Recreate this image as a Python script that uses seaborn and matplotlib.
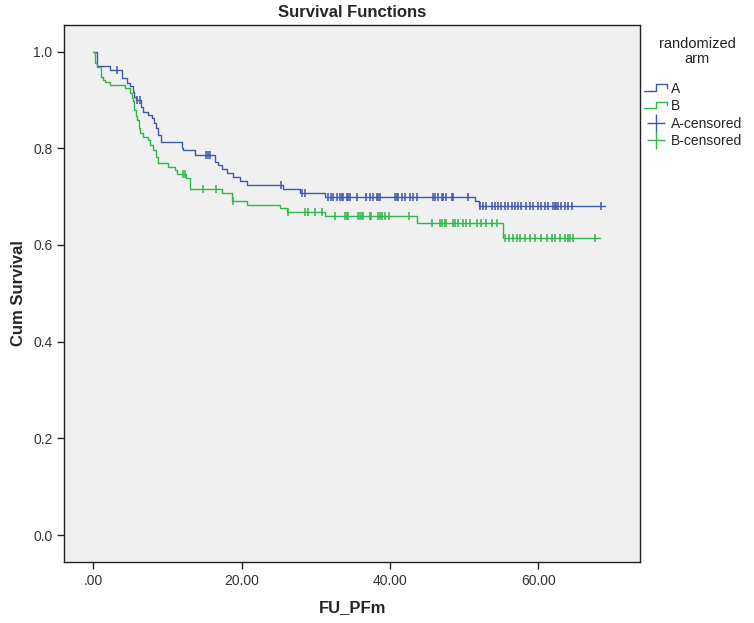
import numpy as np
import pandas as pd
import matplotlib
matplotlib.use("Agg")
import matplotlib.pyplot as plt
from matplotlib.lines import Line2D
from matplotlib.legend_handler import HandlerBase
from matplotlib.ticker import FixedLocator, FuncFormatter
import seaborn as sns

# Kaplan-Meier steps (time in months, survival after the drop)
times_a = [0, 0.54, 2.25, 3.9, 4.5, 4.95, 5.3, 5.5, 5.75, 6.5, 6.75, 7.4, 7.9, 8.2, 8.45,
           8.75, 9.1, 11.9, 12.1, 13.7, 16.4, 16.85, 17.3, 18.0, 18.9, 19.8, 20.7, 25.6,
           27.9, 31.2, 51.4, 52.0, 69.0]
surv_a = [1.0, 0.970, 0.961, 0.945, 0.936, 0.928, 0.917, 0.907, 0.899, 0.886, 0.876, 0.869,
          0.862, 0.852, 0.841, 0.828, 0.812, 0.800, 0.797, 0.786, 0.772, 0.766, 0.757, 0.748,
          0.741, 0.733, 0.724, 0.715, 0.707, 0.700, 0.690, 0.681, 0.681]
cens_a = [3.15, 5.85, 6.3, 15.2, 15.5, 15.8, 25.3, 28.1, 28.5, 31.7, 32.1, 32.3, 32.8, 33.3,
          33.5, 33.7, 34.2, 34.4, 34.6, 35.5, 36.8, 37.3, 37.7, 38.2, 38.4, 38.6, 40.7, 40.9,
          41.1, 41.6, 42.0, 42.7, 43.1, 43.6, 45.8, 46.1, 46.5, 47.0, 47.2, 47.6, 48.3, 48.5,
          50.5, 52.1, 52.5, 53.0, 53.7, 54.1, 54.6, 55.0, 55.5, 55.9, 56.4, 56.8, 57.3, 57.7,
          58.4, 58.9, 59.3, 60.0, 60.4, 60.9, 61.3, 62.0, 62.2, 62.4, 62.7, 63.1, 63.6, 64.0,
          64.5, 68.5]

times_b = [0, 0.3, 0.5, 1.04, 1.35, 1.6, 2.25, 4.3, 4.95, 5.2, 5.4, 5.5, 5.75, 5.9, 6.2, 6.3,
           6.75, 7.4, 7.65, 8.1, 8.45, 8.75, 10.1, 11.0, 11.25, 12.5, 13.0, 17.3, 18.7, 20.7,
           25.2, 26.1, 31.2, 43.6, 55.3, 68.3]
surv_b = [1.0, 0.976, 0.969, 0.948, 0.941, 0.938, 0.931, 0.924, 0.914, 0.903, 0.897, 0.879,
          0.866, 0.859, 0.841, 0.831, 0.824, 0.817, 0.807, 0.797, 0.783, 0.769, 0.762, 0.755,
          0.747, 0.738, 0.715, 0.707, 0.690, 0.683, 0.676, 0.669, 0.659, 0.646, 0.614, 0.614]
cens_b = [12.1, 12.4, 14.8, 16.6, 18.8, 26.2, 28.5, 29.0, 29.9, 30.8, 32.6, 33.9, 34.2, 34.4,
          35.7, 35.9, 36.2, 36.4, 37.3, 37.5, 38.4, 38.6, 38.9, 39.3, 39.8, 42.5, 45.6, 46.7,
          47.0, 47.4, 47.6, 48.5, 48.7, 49.2, 49.9, 50.3, 50.8, 51.7, 52.3, 53.0, 53.7, 54.4,
          55.5, 56.0, 56.6, 57.1, 57.5, 58.2, 58.9, 59.5, 60.4, 61.1, 61.8, 62.2, 62.9, 63.6,
          64.0, 64.2, 64.7, 67.6]

arms = ["A", "B"]
colors = {"A": "#3e58ac", "B": "#2eb848"}

sns.set_theme(style="ticks")
plt.rcParams["font.family"] = ["Liberation Sans", "DejaVu Sans"]


def km_frame(arm, times, surv, cens):
    steps = pd.DataFrame({"time": times, "surv": surv, "arm": arm})
    idx = np.searchsorted(np.array(times), np.array(cens), side="right") - 1
    marks = pd.DataFrame({"time": cens, "surv": np.array(surv)[idx], "arm": arm})
    return steps, marks


sa, ma = km_frame("A", times_a, surv_a, cens_a)
sb, mb = km_frame("B", times_b, surv_b, cens_b)
steps = pd.concat([sa, sb], ignore_index=True)
marks = pd.concat([ma, mb], ignore_index=True)

fig = plt.figure(figsize=(7.54, 6.23), dpi=100)
ax = fig.add_axes([0.0853, 0.0984, 0.7635, 0.8615])
ax.set_facecolor("#f0f0f0")

for arm in arms:
    sns.lineplot(data=steps[steps.arm == arm], x="time", y="surv", ax=ax,
                 color=colors[arm], lw=1.0, drawstyle="steps-post",
                 estimator=None, sort=False, legend=False)
    sns.scatterplot(data=marks[marks.arm == arm], x="time", y="surv", ax=ax,
                    color=colors[arm], marker="|", s=40, linewidth=1.1, legend=False)

ax.set_xlim(-3.9, 73.7)
ax.set_ylim(-0.055, 1.055)
ax.xaxis.set_major_locator(FixedLocator([0, 20, 40, 60]))
ax.xaxis.set_major_formatter(FuncFormatter(lambda v, p: ".00" if v == 0 else f"{v:.2f}"))
ax.yaxis.set_major_locator(FixedLocator([0, 0.2, 0.4, 0.6, 0.8, 1.0]))
ax.yaxis.set_major_formatter(FuncFormatter(lambda v, p: f"{v:.1f}"))
ax.tick_params(axis="both", direction="out", length=5, width=1, colors="#222222",
               labelsize=10, labelcolor="#333333")
for side in ax.spines.values():
    side.set_color("#222222")
    side.set_linewidth(1.0)

ax.set_xlabel("FU_PFm", fontsize=12, fontweight="bold", labelpad=9)
ax.set_ylabel("Cum Survival", fontsize=12, fontweight="bold", labelpad=5)
fig.text(0.467, 0.992, "Survival Functions", fontsize=12, fontweight="bold",
         ha="center", va="top")
fig.text(0.925, 0.917, "randomized\narm", fontsize=10.5, ha="center", va="center",
         multialignment="center", color="#222222", linespacing=1.1)


class StepHandler(HandlerBase):
    def create_artists(self, legend, orig_handle, xd, yd, width, height, fontsize, trans):
        x = np.array([0.05, 0.5, 0.5, 0.92, 0.92]) * width - xd
        y = np.array([0.2, 0.2, 0.85, 0.85, 0.5]) * height - yd
        ln = Line2D(x, y, color=orig_handle.get_color(), lw=1.0, transform=trans)
        return [ln]


h_a = Line2D([], [], color=colors["A"])
h_b = Line2D([], [], color=colors["B"])
h_ca = Line2D([], [], color=colors["A"], marker="+", markersize=13, lw=0)
h_cb = Line2D([], [], color=colors["B"], marker="+", markersize=13, lw=0)
leg = fig.legend([h_a, h_b, h_ca, h_cb], ["A", "B", "A-censored", "B-censored"],
                 handler_map={h_a: StepHandler(), h_b: StepHandler()},
                 loc="upper left", bbox_to_anchor=(0.852, 0.869),
                 frameon=False, fontsize=10,
                 handlelength=1.9, handletextpad=0.15, labelspacing=0.25, borderaxespad=0,
                 borderpad=0)

fig.savefig("out.png", dpi=100)
